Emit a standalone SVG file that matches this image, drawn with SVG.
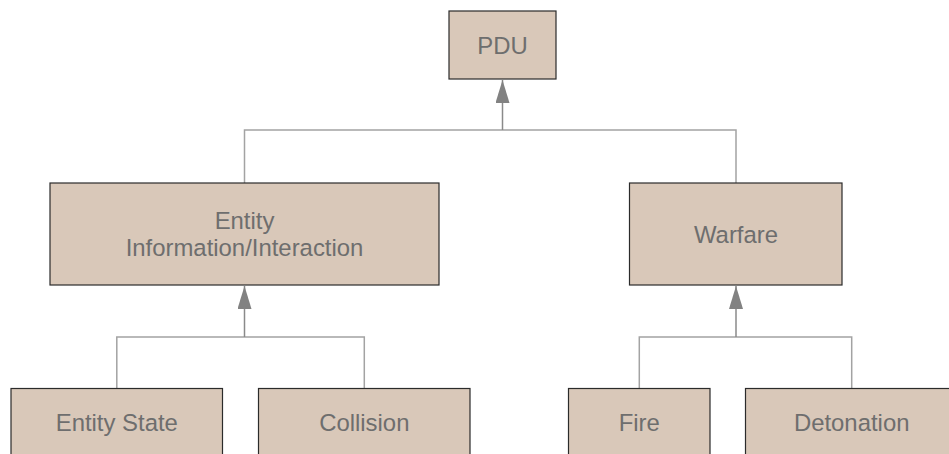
<svg xmlns="http://www.w3.org/2000/svg" width="949" height="454" viewBox="0 0 949 454">
  <style>
    .box { fill: #d9c8b9; stroke: #2b2b2b; stroke-width: 1.2; }
    .lbl { font-family: "Liberation Sans", Arial, sans-serif; font-size: 23.9px; fill: #6e6e6e; text-anchor: middle; }
    .wire { fill: none; stroke: #a3a3a3; stroke-width: 1.5; }
    .shaft { fill: none; stroke: #8a8a8a; stroke-width: 1.5; }
  </style>
  <defs>
    <!-- solid triangular head, drawn pointing along +x so orient="auto" turns it with the line -->
    <marker id="tri" markerUnits="userSpaceOnUse" markerWidth="24" markerHeight="16" refX="23" refY="7" orient="auto" viewBox="0 0 24 16">
      <path d="M0,0 L23,7 L0,14 Z" fill="#828282"/>
    </marker>
  </defs>
  <rect width="949" height="454" fill="#ffffff"/>

  <g id="connectors">
    <!-- Entity Information/Interaction and Warfare to PDU -->
    <path class="wire" d="M244.5,183 V130 H736 V183"/>
    <path class="shaft" d="M502.5,130 V80" marker-end="url(#tri)"/>
    <!-- Entity State and Collision to Entity Information/Interaction -->
    <path class="wire" d="M116.8,388 V337 H364.3 V388"/>
    <path class="shaft" d="M244.5,337 V286" marker-end="url(#tri)"/>
    <!-- Fire and Detonation to Warfare -->
    <path class="wire" d="M639.3,388 V337 H851.7 V388"/>
    <path class="shaft" d="M736,337 V286" marker-end="url(#tri)"/>
  </g>

  <g id="pdu">
    <rect class="box" x="449" y="11" width="107" height="68"/>
    <text class="lbl" x="502.5" y="53.5">PDU</text>
  </g>

  <g id="entity-info">
    <rect class="box" x="50" y="183" width="389" height="102"/>
    <text class="lbl" x="244.5" y="229">Entity</text>
    <text class="lbl" x="244.5" y="256">Information/Interaction</text>
  </g>

  <g id="warfare">
    <rect class="box" x="629.5" y="183" width="212.5" height="102"/>
    <text class="lbl" x="736" y="242.5">Warfare</text>
  </g>

  <g id="entity-state">
    <rect class="box" x="11" y="388.5" width="211.5" height="68"/>
    <text class="lbl" x="116.8" y="430.5">Entity State</text>
  </g>

  <g id="collision">
    <rect class="box" x="258.5" y="388.5" width="211.5" height="68"/>
    <text class="lbl" x="364.3" y="430.5">Collision</text>
  </g>

  <g id="fire">
    <rect class="box" x="568.5" y="388.5" width="141.5" height="68"/>
    <text class="lbl" x="639.3" y="430.5">Fire</text>
  </g>

  <g id="detonation">
    <rect class="box" x="745.5" y="388.5" width="212.5" height="68"/>
    <text class="lbl" x="851.7" y="430.5">Detonation</text>
  </g>
</svg>
